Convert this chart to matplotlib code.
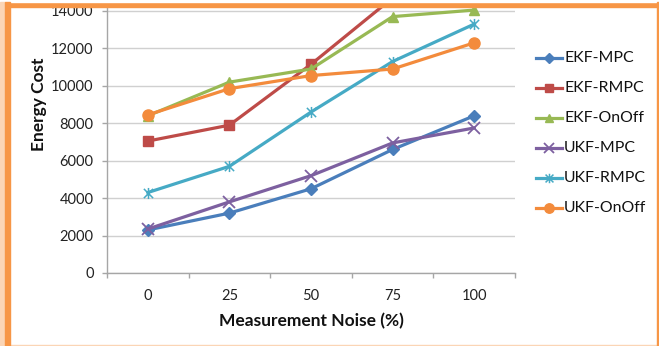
import matplotlib
matplotlib.use("Agg")
import matplotlib.pyplot as plt
from matplotlib.lines import Line2D
from matplotlib.patches import Rectangle
from matplotlib.path import Path

plt.rcParams['font.family'] = ['Lato', 'DejaVu Sans']

categories = ["0", "25", "50", "75", "100"]
series_names = ["EKF-MPC", "EKF-RMPC", "EKF-OnOff", "UKF-MPC", "UKF-RMPC", "UKF-OnOff"]
ekf_mpc = [2300, 3200, 4500, 6600, 8400]
ekf_rmpc = [7050, 7900, 11150, 14700, 16000]
ekf_onoff = [8400, 10200, 10900, 13700, 14050]
ukf_mpc = [2350, 3800, 5200, 6950, 7750]
ukf_rmpc = [4300, 5700, 8600, 11300, 13300]
ukf_onoff = [8450, 9850, 10550, 10900, 12300]
y_ticks = [0, 2000, 4000, 6000, 8000, 10000, 12000, 14000]

# x-cross with a vertical bar
star_marker = Path(
    [(-1, -1), (1, 1), (-1, 1), (1, -1), (0, -1.2), (0, 1.2)],
    [Path.MOVETO, Path.LINETO, Path.MOVETO, Path.LINETO, Path.MOVETO, Path.LINETO],
)

colors = ["#4a7ebb", "#be4b48", "#98b954", "#7d60a0", "#46aac5", "#f38b3c"]
markers = ["D", "s", "^", "x", star_marker, "o"]
msizes = [6, 7.5, 7.5, 8, 8, 8]
mews = [1, 1, 1, 1.3, 1.1, 1]
values = [ekf_mpc, ekf_rmpc, ekf_onoff, ukf_mpc, ukf_rmpc, ukf_onoff]

W, H = 659, 346
fig = plt.figure(figsize=(W / 100, H / 100), dpi=100)

# plot area: y=0 at 273px, 14000 at 11px; x from 107 to 515px
y0_px, y14_px = 273, 11
ymax = 16000
px_per_unit = (y0_px - y14_px) / 14000
top_px = y0_px - ymax * px_per_unit
ax = fig.add_axes([107 / W, (H - y0_px) / H, (515 - 107) / W, (y0_px - top_px) / H])
ax.set_xlim(-0.5, len(categories) - 0.5)
ax.set_ylim(0, ymax)

xs = list(range(len(categories)))
for name, vals, c, m, ms, mew in zip(series_names, values, colors, markers, msizes, mews):
    ax.plot(xs, vals, color=c, lw=2.3, marker=m, ms=ms, mfc=c, mec=c,
            mew=mew, label=name, zorder=3)

# axes styling
for s in ["top", "right"]:
    ax.spines[s].set_visible(False)
for s in ["left", "bottom"]:
    ax.spines[s].set_color("#a6a6a6")
    ax.spines[s].set_linewidth(1)
ax.set_yticks(y_ticks)
ax.set_yticklabels([str(v) for v in y_ticks])
ax.tick_params(axis="y", length=3.6, width=1, color="#a6a6a6", pad=6,
               labelsize=10.5, labelcolor="#222222")
ax.grid(axis="y", color="#d0d0d0", lw=1, zorder=0)
ax.set_axisbelow(True)

ax.set_xticks([i - 0.5 for i in range(len(categories) + 1)])
ax.set_xticklabels([])
ax.set_xticks(xs, minor=True)
ax.set_xticklabels(categories, minor=True)
ax.tick_params(axis="x", which="major", length=3.6, width=1, color="#a6a6a6")
ax.tick_params(axis="x", which="minor", length=0, pad=11.5, labelsize=10.5,
               labelcolor="#222222")

fig.text(311 / W, 1 - 321 / H, "Measurement Noise (%)", ha="center", va="center",
         fontsize=12.5, fontweight="bold", color="#111111")
fig.text(39 / W, 1 - 104 / H, "Energy Cost", ha="center", va="center",
         rotation=90, fontsize=12.5, fontweight="bold", color="#111111")

# legend
leg_y = [58, 88, 118, 148, 178, 208]
for name, c, m, ms, mew, yy in zip(series_names, colors, markers, msizes, mews, leg_y):
    yf = 1 - yy / H
    fig.add_artist(Line2D([536 / W, 562 / W], [yf, yf], color=c, lw=2.3,
                          transform=fig.transFigure))
    fig.add_artist(Line2D([549 / W], [yf], color=c, marker=m, ms=ms * 0.85,
                          mfc=c, mec=c, mew=mew, transform=fig.transFigure))
    fig.text(564 / W, yf, name, ha="left", va="center", fontsize=11.4,
             color="#111111")

# frame around the chart
orange = "#f79646"
peach = "#fbd5b5"
fig.add_artist(Rectangle((0, 1 - 7 / H), 1, 5 / H, transform=fig.transFigure,
                         color=orange, zorder=10))
fig.add_artist(Rectangle((0, 1 - 2 / H), 1, 2 / H, transform=fig.transFigure,
                         color="white", zorder=10))
fig.add_artist(Rectangle((0, 0), 5 / W, 1 - 2 / H, transform=fig.transFigure,
                         color=peach, zorder=10))
fig.add_artist(Rectangle((5 / W, 0), 5 / W, 1 - 2 / H, transform=fig.transFigure,
                         color=orange, zorder=11))
fig.add_artist(Rectangle((657 / W, 0), 2 / W, 1 - 2 / H, transform=fig.transFigure,
                         color=orange, zorder=11))
fig.add_artist(Rectangle((0, 0), 1, 1.5 / H, transform=fig.transFigure,
                         color=peach, zorder=10))

fig.savefig("out.png", dpi=100)
